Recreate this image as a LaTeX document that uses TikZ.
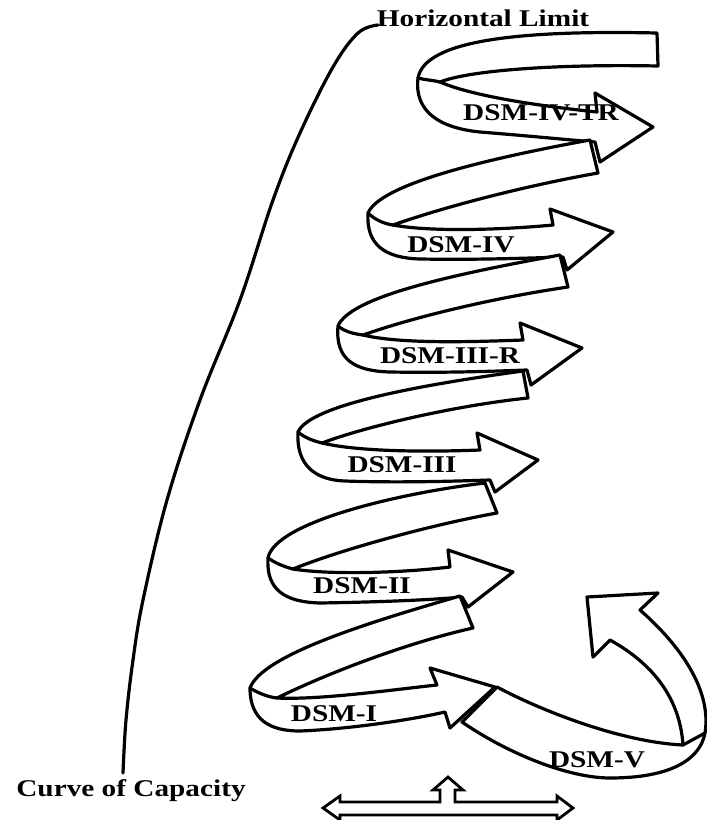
\documentclass[tikz,border=0pt]{standalone}
\usepackage{fontspec}
\setmainfont{Liberation Serif}
\usepackage{graphicx}
\newcommand\wide[1]{\scalebox{1.22}[1]{#1}}
\tikzset{
  rib/.style={draw=black, fill=white, line width=3.2pt, line join=round},
  foldline/.style={draw=black, line width=3.2pt, line cap=round},
  lbl/.style={inner sep=0pt, font=\fontsize{24}{28}\selectfont\bfseries},
  capline/.style={draw=black, line width=3.2pt, line cap=round}
}
\begin{document}
\begin{tikzpicture}[x=1pt,y=-1pt]
\useasboundingbox (0,0) rectangle (707,820);

% Curve of capacity
\draw[capline] plot[smooth, tension=0.6] coordinates {(123,773) (126,720) (133,660) (143,600) (167,500) (200,400) (240,300) (273,200) (300,133) (333,67) (358,33) (378,25)};

% R1 DSM-IV-TR
\coordinate (r1L) at (418,78); \coordinate (r1F) at (440,82);
\path[rib] (657,33) .. controls (520,30) and (425,40) .. (r1L)
  .. controls (414,112) and (440,128) .. (480,132)
  .. controls (530,136) and (570,140) .. (595,142)
  -- (600,162) -- (653,127) -- (595,93) -- (597,112)
  .. controls (530,105) and (470,95) .. (r1F)
  .. controls (470,70) and (560,64) .. (658,66) -- cycle;
\draw[foldline] (r1L) .. controls (425,80) and (432,80) .. (r1F);

% R2 DSM-IV
\coordinate (r2L) at (368,213); \coordinate (r2F) at (393,225);
\path[rib] (590,140) .. controls (480,160) and (380,185) .. (r2L)
  .. controls (366,245) and (385,258) .. (420,259)
  .. controls (480,260) and (530,258) .. (563,257)
  -- (567,270) -- (613,232) -- (550,209) -- (553,225)
  .. controls (500,230) and (430,232) .. (r2F)
  .. controls (450,205) and (530,185) .. (598,173) -- cycle;
\draw[foldline] (r2L) .. controls (375,220) and (385,224) .. (r2F);

% R3 DSM-III-R
\coordinate (r3L) at (338,326); \coordinate (r3F) at (363,335);
\path[rib] (560,255) .. controls (450,275) and (350,297) .. (r3L)
  .. controls (335,360) and (355,371) .. (390,372)
  .. controls (450,373) and (500,371) .. (527,370)
  -- (531,385) -- (582,348) -- (520,323) -- (523,340)
  .. controls (470,342) and (400,344) .. (r3F)
  .. controls (420,315) and (500,297) .. (568,287) -- cycle;
\draw[foldline] (r3L) .. controls (345,332) and (355,334) .. (r3F);

% R4 DSM-III
\coordinate (r4L) at (298,432); \coordinate (r4F) at (322,443);
\path[rib] (523,371) .. controls (420,385) and (310,405) .. (r4L)
  .. controls (296,465) and (315,480) .. (345,481)
  .. controls (400,483) and (460,481) .. (490,480)
  -- (495,492) -- (538,460) -- (477,433) -- (480,450)
  .. controls (430,452) and (360,452) .. (r4F)
  .. controls (370,425) and (460,405) .. (528,398) -- cycle;
\draw[foldline] (r4L) .. controls (305,438) and (314,441) .. (r4F);

% R5 DSM-II
\coordinate (r5L) at (268,558); \coordinate (r5F) at (293,569);
\path[rib] (485,483) .. controls (400,493) and (275,522) .. (r5L)
  .. controls (266,590) and (285,602) .. (320,603)
  .. controls (380,602) and (430,600) .. (462,597)
  -- (468,607) -- (513,572) -- (448,550) -- (450,567)
  .. controls (400,573) and (330,575) .. (r5F)
  .. controls (340,550) and (430,525) .. (497,513) -- cycle;
\draw[foldline] (r5L) .. controls (275,563) and (285,567) .. (r5F);

% R6 DSM-I
\coordinate (r6L) at (250,688); \coordinate (r6F) at (277,698);
\path[rib] (460,596) .. controls (370,622) and (262,655) .. (r6L)
  .. controls (250,720) and (270,731) .. (300,731)
  .. controls (350,729) and (410,720) .. (445,712)
  -- (450,728) -- (495,687) -- (430,668) -- (437,685)
  .. controls (390,690) and (320,700) .. (r6F)
  .. controls (330,672) and (410,642) .. (473,628) -- cycle;
\draw[foldline] (r6L) .. controls (258,693) and (268,697) .. (r6F);

% DSM-V
\coordinate (r7F) at (683,745); \coordinate (r7O) at (705,733);
\path[rib] (462,722) -- (497,687)
  .. controls (540,710) and (620,742) .. (r7F)
  .. controls (680,700) and (655,665) .. (610,640)
  -- (593,657) -- (587,597) -- (658,593) -- (640,610)
  .. controls (680,645) and (712,690) .. (r7O)
  .. controls (700,760) and (670,778) .. (610,778)
  .. controls (570,778) and (510,755) .. (462,722) -- cycle;
\draw[foldline] (r7F) -- (r7O);

% bottom arrow
\path[draw=black, fill=white, line width=2.8pt, line join=miter]
  (323,808) -- (340,796) -- (340,802) -- (440,802) -- (440,790) -- (433,790)
  -- (448,777) -- (463,790) -- (455,790) -- (455,802) -- (557,802) -- (557,796)
  -- (573,808) -- (557,820) -- (557,815) -- (340,815) -- (340,820) -- cycle;

% labels
\node[lbl] (hl) at (483,18) {\wide{Horizontal Limit}};
\node[lbl] (cc) at (131,791) {\wide{Curve of Capacity}};
\node[lbl] (l1) at (541,113) {\wide{DSM-IV-TR}};
\node[lbl] (l2) at (461,245) {\wide{DSM-IV}};
\node[lbl] (l3) at (450,356) {\wide{DSM-III-R}};
\node[lbl] (l4) at (402,465) {\wide{DSM-III}};
\node[lbl] (l5) at (362,586) {\wide{DSM-II}};
\node[lbl] (l6) at (334,714) {\wide{DSM-I}};
\node[lbl] (l7) at (597,760) {\wide{DSM-V}};
\end{tikzpicture}
\end{document}
